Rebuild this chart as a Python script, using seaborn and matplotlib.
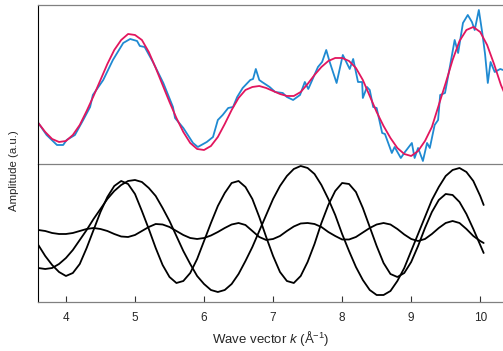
import pandas as pd
import seaborn as sns
import matplotlib
matplotlib.use('Agg')
from matplotlib import pyplot as plt

sns.set_style('white')
plt.rcParams['font.family'] = ['Liberation Sans', 'DejaVu Sans']
plt.rcParams['mathtext.fontset'] = 'custom'
plt.rcParams['mathtext.rm'] = 'Liberation Sans'
plt.rcParams['mathtext.it'] = 'Liberation Sans:italic'

# Messdaten (oben): verrauschte Kurve + Fit
blau_k = [3.6, 3.72, 3.87, 3.96, 4.01, 4.13, 4.25, 4.35, 4.39, 4.54, 4.68, 4.83, 4.93,
          5.03, 5.07, 5.14, 5.26, 5.41, 5.55, 5.58, 5.70, 5.84, 5.91, 6.04, 6.13, 6.20,
          6.27, 6.35, 6.42, 6.48, 6.56, 6.67, 6.71, 6.75, 6.80, 6.84, 6.95, 7.03, 7.14,
          7.20, 7.29, 7.39, 7.46, 7.51, 7.58, 7.65, 7.71, 7.77, 7.82, 7.92, 8.01, 8.11,
          8.16, 8.23, 8.29, 8.30, 8.36, 8.40, 8.45, 8.50, 8.58, 8.62, 8.72, 8.76, 8.85,
          8.91, 9.01, 9.05, 9.10, 9.17, 9.23, 9.27, 9.34, 9.39, 9.42, 9.49, 9.56, 9.63,
          9.68, 9.75, 9.82, 9.88, 9.92, 9.98, 10.03, 10.07, 10.11, 10.15, 10.21, 10.29,
          10.33]
blau_amp = [41, 29, 19, 19, 24, 29, 44, 57, 69, 84, 104, 121, 125,
            123, 118, 117, 102, 81, 57, 46, 36, 21, 17, 22, 27, 44,
            49, 56, 57, 67, 76, 84, 85, 95, 84, 82, 77, 72, 71,
            67, 64, 69, 82, 75, 86, 97, 102, 114, 102, 81, 109, 95,
            105, 82, 82, 66, 77, 74, 57, 56, 31, 30, 11, 17, 6,
            12, 21, 6, 16, 3, 21, 16, 39, 44, 69, 71, 97, 124,
            111, 141, 149, 142, 134, 154, 131, 110, 81, 102, 92, 95,
            94]

fit_k = [3.6, 3.7, 3.8, 3.9, 4.0, 4.1, 4.2, 4.3, 4.4, 4.5, 4.6, 4.7, 4.8, 4.9,
         5.0, 5.1, 5.2, 5.3, 5.4, 5.5, 5.6, 5.7, 5.8, 5.9, 6.0, 6.1, 6.2, 6.3, 6.4,
         6.5, 6.6, 6.7, 6.8, 6.9, 7.0, 7.1, 7.2, 7.3, 7.4, 7.5, 7.6, 7.7, 7.8, 7.9,
         8.0, 8.1, 8.2, 8.3, 8.4, 8.5, 8.6, 8.7, 8.8, 8.9, 9.0, 9.1, 9.2, 9.3, 9.4,
         9.5, 9.6, 9.7, 9.8, 9.9, 10.0, 10.1, 10.2, 10.3, 10.35]
fit_amp = [41, 32, 25, 22, 23, 29, 39, 53, 68, 84, 100, 114, 124, 130,
           129, 124, 112, 96, 79, 62, 46, 32, 21, 15, 14, 18, 27, 40, 54,
           66, 74, 77, 78, 76, 73, 70, 68, 68, 72, 80, 89, 97, 103, 106,
           106, 103, 96, 84, 68, 52, 38, 26, 16, 10, 8, 13, 23, 37, 59,
           81, 104, 123, 134, 137, 132, 119, 100, 79, 71]

# Komponenten (unten)
komp_k = [3.6, 3.7, 3.8, 3.9, 4.0, 4.1, 4.2, 4.3, 4.4, 4.5, 4.6, 4.7, 4.8, 4.9,
          5.0, 5.1, 5.2, 5.3, 5.4, 5.5, 5.6, 5.7, 5.8, 5.9, 6.0, 6.1, 6.2, 6.3, 6.4,
          6.5, 6.6, 6.7, 6.8, 6.9, 7.0, 7.1, 7.2, 7.3, 7.4, 7.5, 7.6, 7.7, 7.8, 7.9,
          8.0, 8.1, 8.2, 8.3, 8.4, 8.5, 8.6, 8.7, 8.8, 8.9, 9.0, 9.1, 9.2, 9.3, 9.4,
          9.5, 9.6, 9.7, 9.8, 9.9, 10.0, 10.05]
komp_a = [34, 33, 34, 38, 44, 52, 62, 72, 83, 93, 103, 111, 117, 121,
          122, 120, 114, 106, 94, 81, 66, 51, 38, 26, 18, 12, 10, 12, 18,
          28, 41, 55, 71, 87, 103, 116, 126, 133, 136, 134, 128, 117, 103, 87,
          68, 51, 35, 22, 12, 7, 7, 11, 21, 34, 51, 68, 85, 102, 115,
          126, 132, 134, 130, 121, 106, 97]
komp_b = [57, 46, 37, 30, 26, 29, 38, 54, 72, 90, 105, 116, 121, 118,
          108, 91, 73, 54, 37, 25, 19, 21, 29, 43, 61, 79, 96, 109, 119,
          121, 115, 103, 85, 65, 46, 30, 21, 19, 26, 40, 58, 79, 97, 111,
          119, 118, 110, 94, 75, 56, 39, 28, 25, 29, 40, 56, 74, 90, 102,
          108, 107, 100, 88, 73, 57, 49]
komp_c = [72, 71, 69, 68, 68, 69, 71, 73, 74, 73, 71, 68, 65.5, 65,
          67, 71, 75, 78, 77.5, 75, 71, 67, 64, 63, 64, 66.5, 70, 74, 77.5,
          79, 77, 71, 65, 62, 63, 66, 71, 75.5, 78.5, 79, 78, 75, 70, 66,
          62.5, 62.5, 65, 69.5, 74, 77.5, 79, 77.5, 73, 67.5, 63, 61, 63, 68, 74,
          79, 81, 79, 73, 66, 61, 59]

komp = pd.DataFrame({
    'k': komp_k * 3,
    'amp': komp_a + komp_b + komp_c,
    'komp': ['a'] * len(komp_k) + ['b'] * len(komp_k) + ['c'] * len(komp_k),
})

fig = plt.figure(figsize=(5.03, 3.51), dpi=100)
ax_oben = fig.add_axes([0.0755, 0.5328, 0.9245, 0.453])
ax_unten = fig.add_axes([0.0755, 0.1396, 0.9245, 0.3932])
ax_unten.patch.set_visible(False)  # sonst verdeckt es die Trennlinie

sns.lineplot(x=blau_k, y=blau_amp, ax=ax_oben, color='#1f8ad2', lw=1.3, estimator=None)
sns.lineplot(x=fit_k, y=fit_amp, ax=ax_oben, color='#e2165e', lw=1.3, estimator=None)

sns.lineplot(data=komp, x='k', y='amp', units='komp', estimator=None,
             ax=ax_unten, color='black', lw=1.3)

grau = '#808080'
for ax in (ax_oben, ax_unten):
    ax.set_xlim(3.595, 10.33)
    ax.set_yticks([])
    ax.set_ylabel('')
    ax.spines['right'].set_visible(False)
    ax.spines['left'].set_color('black')
    ax.spines['left'].set_linewidth(0.8)
    ax.spines['bottom'].set_color(grau)
    ax.spines['bottom'].set_linewidth(0.9)

ax_oben.set_ylim(0, 159)
ax_oben.set_xticks([])
ax_oben.spines['top'].set_color(grau)
ax_oben.spines['top'].set_linewidth(0.9)

ax_unten.set_ylim(0, 138)
ax_unten.spines['top'].set_visible(False)
ax_unten.set_xticks([4, 5, 6, 7, 8, 9, 10])
ax_unten.tick_params(axis='x', direction='in', length=4, width=0.8,
                     color='#333333', labelsize=8.5, pad=7, bottom=True)
ax_unten.set_xlabel(r'Wave vector $k$ (Å$^{-1}$)', fontsize=9.5, labelpad=4)

fig.text(0.028, 0.513, 'Amplitude (a.u.)', rotation=90, va='center', ha='center', fontsize=8.2)

plt.savefig('out.png', dpi=100)
